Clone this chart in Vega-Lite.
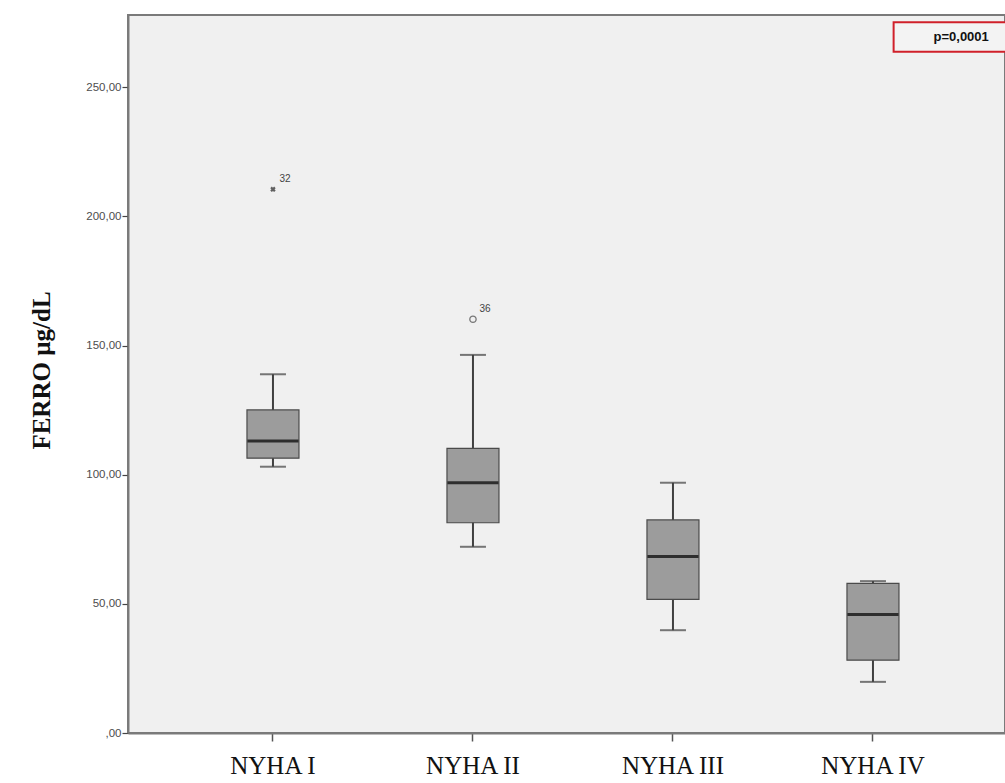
{
  "$schema": "https://vega.github.io/schema/vega-lite/v6.json",
  "autosize": {"type": "none"},
  "width": 877,
  "height": 718,
  "padding": {"left": 128, "top": 15, "right": 0, "bottom": 50},
  "background": "#ffffff",
  "config": {
    "view": {"fill": "#f0f0f0", "stroke": "#7a7a7a", "strokeWidth": 2}
  },
  "datasets": {
    "boxes": [
      {"group": "NYHA I", "lower": 103.1, "q1": 106.4, "median": 113.1, "q3": 125.1, "upper": 138.9},
      {"group": "NYHA II", "lower": 72.1, "q1": 81.4, "median": 96.9, "q3": 110.2, "upper": 146.4},
      {"group": "NYHA III", "lower": 39.8, "q1": 51.7, "median": 68.3, "q3": 82.5, "upper": 96.9},
      {"group": "NYHA IV", "lower": 19.8, "q1": 28.2, "median": 45.9, "q3": 57.9, "upper": 58.8}
    ],
    "outliers": [
      {"group": "NYHA I", "value": 210.5, "label": "32", "kind": "extreme"},
      {"group": "NYHA II", "value": 160.2, "label": "36", "kind": "outlier"}
    ],
    "note": [
      {"pos": 0.95, "left": 0.873, "right": 1.06, "yc": 269.5, "ylo": 263.8, "yhi": 275.2, "text": "p=0,0001"}
    ]
  },
  "resolve": {"scale": {"x": "independent"}},
  "layer": [
    {
      "layer": [
        {
          "data": {"name": "boxes"},
          "mark": {"type": "rule", "color": "#404040", "strokeWidth": 2},
          "encoding": {
            "x": {
              "field": "group", "type": "nominal",
              "scale": {"type": "band", "domain": ["NYHA I", "NYHA II", "NYHA III", "NYHA IV"], "paddingInner": 0, "paddingOuter": 0.1925, "align": 0.584},
              "axis": {
                "title": null, "labelAngle": 0, "domain": true, "domainColor": "#7a7a7a", "domainWidth": 2,
                "ticks": true, "tickSize": 8, "tickColor": "#555555", "tickWidth": 1.5,
                "labelFont": "Liberation Serif", "labelFontSize": 25, "labelColor": "#111111", "labelPadding": 12
              }
            },
            "y": {
              "field": "lower", "type": "quantitative",
              "scale": {"domain": [0, 278], "nice": false, "zero": true},
              "axis": {
                "values": [0, 50, 100, 150, 200, 250],
                "labelExpr": "datum.value == 0 ? ',00' : replace(format(datum.value, '.2f'), '.', ',')",
                "grid": false, "domain": true, "domainColor": "#7a7a7a", "domainWidth": 2,
                "tickSize": 6, "tickColor": "#444444", "tickWidth": 1.2,
                "labelFont": "Liberation Sans", "labelFontSize": 11.5, "labelColor": "#4d4d4d", "labelPadding": 1,
                "title": "FERRO  µg/dL", "titleFont": "Liberation Serif", "titleFontSize": 25, "titleFontWeight": "bold",
                "titleColor": "#111111", "titlePadding": 31, "titleY": 355
              }
            },
            "y2": {"field": "upper"}
          }
        },
        {
          "data": {"name": "boxes"},
          "mark": {"type": "tick", "orient": "horizontal", "color": "#404040", "size": 26, "thickness": 2},
          "encoding": {
            "x": {"field": "group", "type": "nominal"},
            "y": {"field": "lower", "type": "quantitative"}
          }
        },
        {
          "data": {"name": "boxes"},
          "mark": {"type": "tick", "orient": "horizontal", "color": "#404040", "size": 26, "thickness": 2},
          "encoding": {
            "x": {"field": "group", "type": "nominal"},
            "y": {"field": "upper", "type": "quantitative"}
          }
        },
        {
          "data": {"name": "boxes"},
          "mark": {"type": "bar", "size": 52, "fill": "#9c9c9c", "stroke": "#4a4a4a", "strokeWidth": 1.2},
          "encoding": {
            "x": {"field": "group", "type": "nominal"},
            "y": {"field": "q1", "type": "quantitative"},
            "y2": {"field": "q3"}
          }
        },
        {
          "data": {"name": "boxes"},
          "mark": {"type": "tick", "orient": "horizontal", "color": "#000000", "size": 51, "thickness": 3},
          "encoding": {
            "x": {"field": "group", "type": "nominal"},
            "y": {"field": "median", "type": "quantitative"}
          }
        },
        {
          "data": {"name": "outliers"},
          "transform": [{"filter": "datum.kind == 'extreme'"}],
          "mark": {"type": "point", "shape": "cross", "filled": true, "color": "#222222", "size": 30, "angle": 45},
          "encoding": {
            "x": {"field": "group", "type": "nominal"},
            "y": {"field": "value", "type": "quantitative"}
          }
        },
        {
          "data": {"name": "outliers"},
          "transform": [{"filter": "datum.kind == 'outlier'"}],
          "mark": {"type": "point", "shape": "circle", "filled": false, "color": "#444444", "size": 40, "strokeWidth": 1.3},
          "encoding": {
            "x": {"field": "group", "type": "nominal"},
            "y": {"field": "value", "type": "quantitative"}
          }
        },
        {
          "data": {"name": "outliers"},
          "mark": {"type": "text", "font": "Liberation Sans", "fontSize": 10, "color": "#444444", "dx": 12, "dy": -10},
          "encoding": {
            "x": {"field": "group", "type": "nominal"},
            "y": {"field": "value", "type": "quantitative"},
            "text": {"field": "label"}
          }
        }
      ]
    },
    {
      "data": {"name": "note"},
      "layer": [
        {
          "mark": {"type": "rect", "fill": "#f3f3f3", "stroke": "#d0202a", "strokeWidth": 2, "clip": true},
          "encoding": {
            "x": {"field": "left", "type": "quantitative", "scale": {"domain": [0, 1], "nice": false, "zero": false}, "axis": null},
            "x2": {"field": "right"},
            "y": {"field": "ylo", "type": "quantitative"},
            "y2": {"field": "yhi"}
          }
        },
        {
          "mark": {"type": "text", "font": "Liberation Sans", "fontSize": 13, "fontWeight": "bold", "color": "#111111", "baseline": "middle", "align": "center"},
          "encoding": {
            "x": {"field": "pos", "type": "quantitative"},
            "y": {"field": "yc", "type": "quantitative"},
            "text": {"field": "text"}
          }
        }
      ]
    }
  ]
}
